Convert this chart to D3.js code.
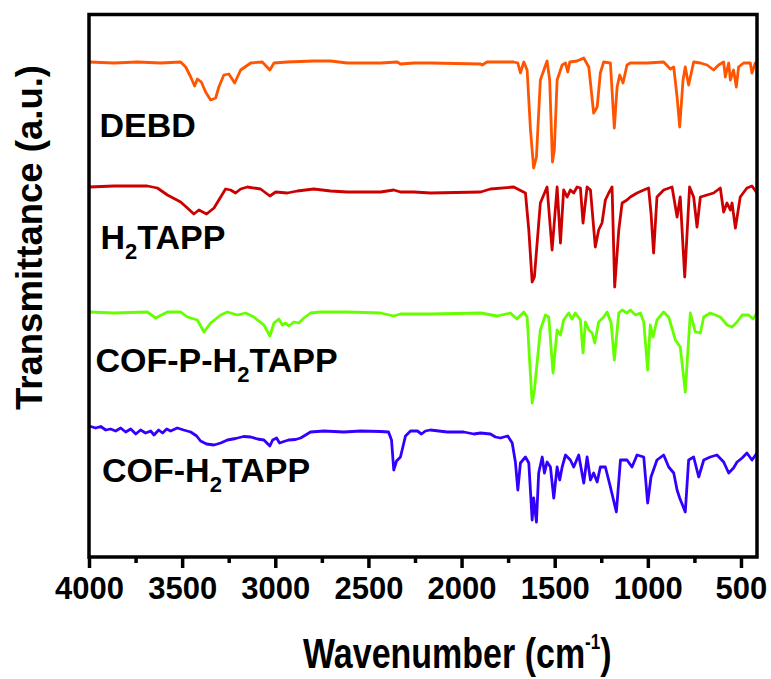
<!DOCTYPE html>
<html>
<head>
<meta charset="utf-8">
<script src="https://cdn.jsdelivr.net/npm/d3@7"></script>
<style>
  body { margin: 0; background: #fff; }
  svg { display: block; font-family: Arial, "Liberation Sans", sans-serif; }
</style>
</head>
<body>
<div id="plot"></div>
<script>
// FTIR spectra, stacked, wavenumber axis reversed (4000 -> ~414 cm-1)
// each point: [wavenumber, transmittance (a.u., offset)]
const debd = [
  [4000, 4.95], [3866, 4.94], [3740, 4.95], [3615, 4.94], [3508, 4.95], [3481, 4.90], [3454, 4.80],
  [3433, 4.71], [3418, 4.78], [3397, 4.75], [3374, 4.65], [3347, 4.57], [3320, 4.59], [3303, 4.70],
  [3276, 4.82], [3249, 4.83], [3218, 4.74], [3186, 4.87], [3132, 4.94], [3070, 4.95], [3029, 4.87],
  [3007, 4.94], [2936, 4.95], [2793, 4.96], [2703, 4.96], [2614, 4.94], [2435, 4.94], [2345, 4.95],
  [2328, 4.93], [2256, 4.94], [2167, 4.94], [1898, 4.93], [1889, 4.92], [1863, 4.95], [1720, 4.95],
  [1698, 4.94], [1684, 4.84], [1666, 4.95], [1648, 4.87], [1630, 4.27], [1613, 3.89], [1598, 4.00],
  [1577, 4.77], [1541, 4.96], [1527, 4.77], [1512, 3.95], [1502, 4.07], [1487, 4.77], [1460, 4.92],
  [1442, 4.94], [1430, 4.85], [1419, 4.95], [1380, 4.96], [1344, 4.99], [1317, 4.90], [1291, 4.44],
  [1272, 4.50], [1255, 4.84], [1237, 4.95], [1201, 4.94], [1180, 4.29], [1165, 4.70], [1151, 4.82],
  [1133, 4.74], [1112, 4.92], [1094, 4.94], [1004, 4.94], [915, 4.95], [879, 4.88], [861, 4.90],
  [843, 4.60], [829, 4.30], [811, 4.77], [799, 4.90], [781, 4.72], [754, 4.95], [718, 4.94],
  [682, 4.92], [647, 4.87], [620, 4.92], [593, 4.95], [584, 4.80], [566, 4.94], [557, 4.77],
  [540, 4.87], [525, 4.70], [513, 4.90], [486, 4.94], [450, 4.94], [441, 4.84], [423, 4.94], [414, 4.94]
];
const h2tapp = [
  [4000, 3.70], [3866, 3.71], [3687, 3.71], [3633, 3.69], [3579, 3.62], [3508, 3.55], [3472, 3.49],
  [3437, 3.43], [3410, 3.47], [3369, 3.43], [3329, 3.49], [3293, 3.60], [3267, 3.68], [3240, 3.67],
  [3213, 3.64], [3186, 3.68], [3150, 3.70], [3079, 3.68], [3029, 3.61], [2998, 3.65], [2936, 3.64],
  [2882, 3.66], [2793, 3.68], [2703, 3.66], [2614, 3.65], [2525, 3.65], [2435, 3.65], [2364, 3.67],
  [2328, 3.65], [2256, 3.65], [2167, 3.64], [1898, 3.65], [1845, 3.68], [1720, 3.70], [1657, 3.64],
  [1639, 3.27], [1621, 2.75], [1609, 2.80], [1577, 3.54], [1541, 3.70], [1514, 3.07], [1487, 3.70],
  [1469, 3.14], [1452, 3.67], [1433, 3.60], [1416, 3.67], [1398, 3.64], [1380, 3.70], [1362, 3.69],
  [1348, 3.34], [1326, 3.70], [1308, 3.67], [1282, 3.10], [1264, 3.27], [1246, 3.34], [1228, 3.57],
  [1210, 3.64], [1192, 3.70], [1178, 2.70], [1156, 3.27], [1138, 3.54], [1112, 3.57], [1094, 3.60],
  [1058, 3.64], [1022, 3.67], [996, 3.69], [983, 3.44], [969, 3.04], [951, 3.60], [915, 3.67],
  [870, 3.70], [843, 3.40], [826, 3.60], [802, 2.80], [776, 3.70], [754, 3.60], [736, 3.30],
  [718, 3.60], [682, 3.62], [647, 3.64], [611, 3.69], [593, 3.45], [575, 3.54], [557, 3.47],
  [548, 3.54], [530, 3.29], [504, 3.60], [468, 3.69], [441, 3.71], [414, 3.64]
];
const cofPH2tapp = [
  [4000, 2.45], [3866, 2.44], [3687, 2.45], [3642, 2.39], [3579, 2.45], [3508, 2.45], [3472, 2.40],
  [3418, 2.37], [3383, 2.25], [3347, 2.34], [3293, 2.42], [3257, 2.45], [3204, 2.42], [3159, 2.44],
  [3115, 2.40], [3061, 2.32], [3029, 2.21], [3007, 2.34], [2981, 2.38], [2962, 2.32], [2945, 2.34],
  [2927, 2.31], [2900, 2.35], [2873, 2.34], [2846, 2.39], [2811, 2.44], [2757, 2.45], [2614, 2.45],
  [2435, 2.44], [2364, 2.41], [2328, 2.43], [2167, 2.43], [1898, 2.44], [1809, 2.41], [1738, 2.44],
  [1702, 2.38], [1666, 2.45], [1648, 2.40], [1634, 1.94], [1621, 1.54], [1609, 1.67], [1577, 2.27],
  [1550, 2.42], [1532, 2.40], [1509, 1.84], [1487, 2.27], [1469, 2.22], [1452, 2.37], [1425, 2.44],
  [1407, 2.38], [1389, 2.44], [1362, 2.37], [1348, 2.04], [1335, 2.35], [1317, 2.27], [1299, 2.24],
  [1285, 2.14], [1264, 2.35], [1237, 2.40], [1219, 2.45], [1197, 2.34], [1180, 1.97], [1156, 2.44],
  [1138, 2.47], [1112, 2.44], [1094, 2.47], [1067, 2.42], [1040, 2.44], [1022, 2.35], [1001, 1.87],
  [987, 2.32], [972, 2.20], [951, 2.37], [915, 2.45], [888, 2.40], [852, 2.17], [826, 2.10],
  [799, 1.65], [772, 2.44], [745, 2.25], [718, 2.24], [700, 2.40], [665, 2.44], [611, 2.40],
  [575, 2.32], [548, 2.30], [521, 2.35], [494, 2.42], [459, 2.42], [435, 2.38], [414, 2.44]
];
const cofH2tapp = [
  [4000, 1.31], [3964, 1.29], [3937, 1.305], [3910, 1.27], [3884, 1.28], [3857, 1.26], [3830, 1.29],
  [3803, 1.25], [3776, 1.28], [3749, 1.23], [3723, 1.27], [3696, 1.24], [3669, 1.26], [3651, 1.22],
  [3626, 1.27], [3605, 1.24], [3583, 1.28], [3562, 1.26], [3526, 1.29], [3492, 1.27], [3454, 1.25],
  [3422, 1.21], [3401, 1.16], [3369, 1.13], [3329, 1.12], [3293, 1.14], [3257, 1.17], [3213, 1.185],
  [3170, 1.205], [3132, 1.20], [3095, 1.18], [3061, 1.17], [3029, 1.11], [3014, 1.17], [2993, 1.19],
  [2977, 1.14], [2962, 1.15], [2929, 1.17], [2891, 1.175], [2864, 1.19], [2837, 1.22], [2811, 1.25],
  [2739, 1.26], [2632, 1.25], [2542, 1.26], [2435, 1.255], [2392, 1.25], [2376, 1.17], [2364, 0.87],
  [2349, 0.96], [2328, 1.00], [2301, 1.21], [2274, 1.26], [2237, 1.26], [2215, 1.23], [2194, 1.26],
  [2167, 1.27], [2077, 1.25], [1988, 1.25], [1961, 1.24], [1934, 1.23], [1898, 1.24], [1845, 1.23],
  [1818, 1.20], [1791, 1.19], [1773, 1.20], [1752, 1.21], [1728, 1.14], [1711, 0.95], [1698, 0.67],
  [1684, 0.94], [1657, 1.00], [1639, 0.94], [1621, 0.37], [1613, 0.59], [1598, 0.35], [1586, 0.84],
  [1567, 1.00], [1555, 0.84], [1541, 0.95], [1523, 0.90], [1505, 0.59], [1487, 0.90], [1473, 0.77],
  [1460, 0.90], [1442, 1.02], [1416, 0.97], [1398, 0.90], [1371, 1.02], [1344, 0.74], [1326, 1.00],
  [1308, 0.77], [1291, 0.84], [1272, 0.75], [1255, 0.90], [1228, 0.90], [1201, 0.70], [1169, 0.45],
  [1147, 0.97], [1112, 0.97], [1085, 0.90], [1058, 1.02], [1022, 1.00], [1001, 0.54], [983, 0.80],
  [951, 0.97], [915, 1.02], [888, 0.90], [861, 0.84], [843, 0.67], [829, 0.59], [799, 0.45],
  [781, 0.97], [754, 1.00], [727, 0.80], [700, 0.97], [665, 1.00], [629, 1.02], [593, 0.95],
  [566, 0.84], [540, 0.89], [521, 0.95], [494, 0.99], [468, 1.04], [441, 0.97], [414, 1.04]
];

const seriesData = [debd, h2tapp, cofPH2tapp, cofH2tapp];
const seriesColors = ['#ff5500', '#cc0000', '#66ff00', '#3300ff'];
// label pieces: [before subscript, subscript, after subscript]
const seriesLabels = [['DEBD', '', ''], ['H', '2', 'TAPP'], ['COF-P-H', '2', 'TAPP'], ['COF-H', '2', 'TAPP']];
const labelPos = [[99.5, 137], [100.5, 249], [95.5, 372], [102, 482]];

const majorTicks = [4000, 3500, 3000, 2500, 2000, 1500, 1000, 500];
const minorTicks = [3750, 3250, 2750, 2250, 1750, 1250, 750];

const W = 771, H = 679;
const margin = { top: 14.5, right: 14, bottom: 122, left: 89 };
const width = W - margin.left - margin.right;
const height = H - margin.top - margin.bottom;

const svg = d3.select('#plot').append('svg').attr('width', W).attr('height', H);
const g = svg.append('g').attr('transform', `translate(${margin.left},${margin.top})`);

const x = d3.scaleLinear().domain([4000, 414]).range([0, width]);
const y = d3.scaleLinear().domain([0, 5.425]).range([height, 0]);

const line = d3.line().x((d) => x(d[0])).y((d) => y(d[1])).curve(d3.curveLinear);

seriesData.forEach((s, i) => {
  g.append('path').datum(s).attr('fill', 'none').attr('stroke', seriesColors[i])
    .attr('stroke-width', 2.8).attr('stroke-linejoin', 'round').attr('d', line);
});

// minor ticks
const minorAxis = g.append('g').attr('transform', `translate(0,${height})`)
  .call(d3.axisBottom(x).tickValues(minorTicks).tickSize(6).tickFormat(''));
minorAxis.select('.domain').remove();
minorAxis.selectAll('line').attr('stroke', '#000').attr('stroke-width', 3.5);

const majorAxis = g.append('g').attr('transform', `translate(0,${height})`)
  .call(d3.axisBottom(x).tickValues(majorTicks).tickSize(11).tickPadding(9).tickFormat(d3.format('d')));
majorAxis.select('.domain').remove();
majorAxis.selectAll('line').attr('stroke', '#000').attr('stroke-width', 3.5);
majorAxis.selectAll('text').attr('fill', '#000').style('font-size', '31px').style('font-weight', 'bold')
  .style('font-family', 'Arial, "Liberation Sans", sans-serif');

// frame
g.append('rect').attr('x', 0).attr('y', 0).attr('width', width).attr('height', height)
  .attr('fill', 'none').attr('stroke', '#000').attr('stroke-width', 3.5);

// series labels
seriesLabels.forEach((p, i) => {
  const t = svg.append('text').attr('x', labelPos[i][0]).attr('y', labelPos[i][1])
    .style('font-size', '34px').style('font-weight', 'bold').attr('fill', '#000');
  t.append('tspan').text(p[0]);
  if (p[1]) {
    t.append('tspan').attr('dy', 10).style('font-size', '22px').text(p[1]);
    t.append('tspan').attr('dy', -10).text(p[2]);
  }
});

// axis titles
svg.append('text').attr('transform', 'translate(41.5,237.5) rotate(-90)').attr('text-anchor', 'middle')
  .style('font-size', '37px').style('font-weight', 'bold').attr('textLength', 345)
  .attr('lengthAdjust', 'spacingAndGlyphs').text('Transmittance (a.u.)');

// x title is drawn taller than wide, as in the reference
const xt = svg.append('text').attr('transform', 'translate(303,668) scale(1,1.27)')
  .style('font-size', '34px').style('font-weight', 'bold');
xt.append('tspan').text('Wavenumber (cm');
xt.append('tspan').attr('dy', -15).style('font-size', '17px').text('-1');
xt.append('tspan').attr('dy', 15).text(')');
</script>
</body>
</html>
